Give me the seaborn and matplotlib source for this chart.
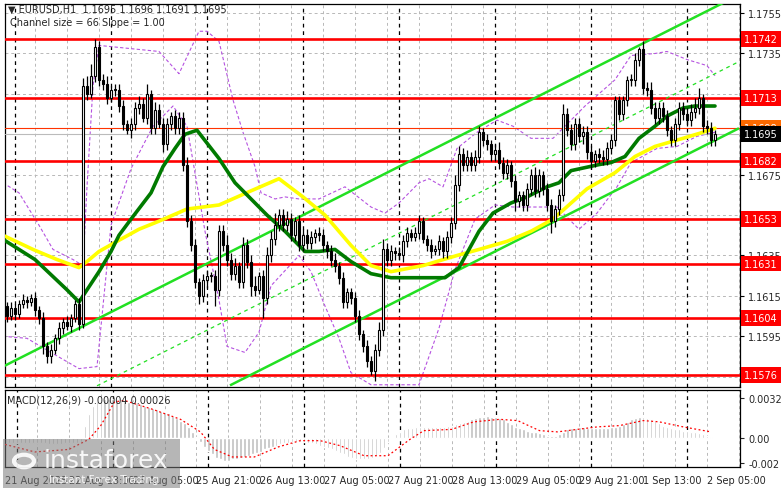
import matplotlib
matplotlib.use("Agg")
import matplotlib.pyplot as plt
import matplotlib.patches as mpatches
import numpy as np
import pandas as pd
import seaborn as sns

W, H = 781, 489

# ---- data (EURUSD H1) ----
first_open = 1.1612
closes = [
    1.1610, 1.1605, 1.1609, 1.1606, 1.1611, 1.1613, 1.1612, 1.1614, 1.1608, 1.1604,
    1.1590, 1.1585, 1.1588, 1.1594, 1.1599, 1.1602, 1.1600, 1.1604, 1.1611, 1.1601,
    1.1719, 1.1715, 1.1724, 1.1738, 1.1722, 1.1720, 1.1713, 1.1717, 1.1717, 1.1709,
    1.1700, 1.1697, 1.1700, 1.1708, 1.1710, 1.1703, 1.1715, 1.1698, 1.1707, 1.1700,
    1.1690, 1.1700, 1.1704, 1.1698, 1.1703, 1.1680, 1.1652, 1.1640, 1.1622, 1.1615,
    1.1623, 1.1625, 1.1625, 1.1618, 1.1647, 1.1640, 1.1633, 1.1626, 1.1630, 1.1622,
    1.1640, 1.1632, 1.1620, 1.1618, 1.1625, 1.1614, 1.1635, 1.1643, 1.1650, 1.1655,
    1.1650, 1.1653, 1.1645, 1.1652, 1.1640, 1.1645, 1.1641, 1.1644, 1.1646, 1.1645,
    1.1640, 1.1637, 1.1633, 1.1630, 1.1624, 1.1612, 1.1617, 1.1614, 1.1605, 1.1596,
    1.1590, 1.1583, 1.1578, 1.1588, 1.1598, 1.1638, 1.1633, 1.1637, 1.1636, 1.1635,
    1.1642, 1.1646, 1.1644, 1.1646, 1.1652, 1.1643, 1.1640, 1.1637, 1.1638, 1.1642,
    1.1637, 1.1644, 1.1651, 1.1670, 1.1685, 1.1680, 1.1684, 1.1680, 1.1684, 1.1696,
    1.1692, 1.1690, 1.1685, 1.1687, 1.1681, 1.1676, 1.1680, 1.1672, 1.1662, 1.1665,
    1.1660, 1.1668, 1.1675, 1.1667, 1.1675, 1.1668, 1.1660, 1.1652, 1.1658, 1.1665,
    1.1705, 1.1697, 1.1690, 1.1700, 1.1694, 1.1696, 1.1686, 1.1682, 1.1685, 1.1684,
    1.1683, 1.1688, 1.1692, 1.1712, 1.1705, 1.1712, 1.1722, 1.1722, 1.1732, 1.1737,
    1.1718, 1.1717, 1.1708, 1.1703, 1.1708, 1.1704, 1.1697, 1.1692, 1.1700, 1.1708,
    1.1705, 1.1702, 1.1706, 1.1708, 1.1713, 1.1699, 1.1698, 1.1692, 1.1695,
]
# wick lengths beyond the body, in pips
wick_up = [
    3, 2, 3, 2, 2, 3, 2, 2, 3, 2,  3, 2, 3, 2, 3, 2, 3, 2, 2, 3,
    4, 5, 6, 4, 3, 3, 4, 2, 3, 3,  3, 2, 3, 3, 4, 3, 5, 2, 4, 3,
    3, 3, 2, 3, 3, 3, 4, 3, 3, 2,  3, 3, 2, 3, 3, 3, 5, 3, 4, 2,
    4, 3, 3, 5, 2, 3, 4, 4, 6, 3,  3, 4, 3, 2, 3, 3, 3, 3, 2, 3,
    3, 2, 3, 3, 2, 3, 2, 2, 3, 3,  2, 3, 2, 3, 4, 5, 3, 3, 2, 3,
    3, 3, 2, 3, 3, 2, 2, 3, 2, 3,  2, 3, 3, 5, 4, 3, 3, 2, 3, 3,
    2, 3, 2, 3, 4, 3, 3, 2, 3, 2,  2, 3, 3, 4, 3, 2, 3, 3, 2, 3,
    5, 3, 3, 3, 3, 3, 3, 3, 2, 3,  3, 3, 3, 2, 2, 2, 2, 3, 3, 1,
    4, 3, 4, 3, 3, 3, 3, 2, 3, 3,  3, 3, 4, 5, 5, 2, 3, 3, 2,
]
wick_dn = [
    3, 3, 2, 3, 2, 2, 3, 2, 3, 3,  4, 3, 3, 2, 3, 3, 2, 3, 2, 3,
    2, 3, 2, 3, 3, 3, 3, 2, 3, 3,  3, 2, 4, 3, 3, 2, 3, 3, 3, 2,
    4, 3, 3, 3, 3, 3, 3, 3, 3, 4,  3, 4, 3, 8, 3, 3, 3, 3, 3, 3,
    3, 3, 5, 3, 2, 10, 3, 3, 3, 3,  3, 3, 3, 3, 3, 3, 3, 3, 3, 3,
    3, 3, 3, 3, 3, 3, 3, 3, 3, 3,  3, 3, 2, 5, 3, 3, 3, 3, 3, 2,
    3, 3, 2, 2, 3, 2, 3, 3, 2, 3,  3, 3, 3, 3, 3, 3, 3, 3, 3, 3,
    3, 3, 3, 3, 3, 3, 3, 3, 5, 3,  3, 3, 3, 3, 3, 3, 3, 6, 3, 3,
    3, 3, 3, 3, 3, 4, 3, 4, 3, 3,  3, 3, 3, 3, 3, 3, 3, 3, 3, 3,
    3, 3, 3, 3, 3, 3, 3, 3, 3, 3,  3, 3, 3, 3, 3, 3, 3, 3, 3,
]

green_idx = [0, 8, 16, 19, 21, 24, 27, 29, 32, 37, 40, 43, 45.5, 48.5, 54, 58, 62, 66,
             70.5, 75.5, 79, 83, 87, 92, 97, 105, 110.5, 114, 119, 122.5, 127, 131, 136,
             139, 142, 149, 152, 155.5, 159, 163, 166, 170, 173, 178]
green_val = [1.1643, 1.1633, 1.1618, 1.1612, 1.1618, 1.1627, 1.1637, 1.1645, 1.1653, 1.1666,
             1.1679, 1.1688, 1.1695, 1.1697, 1.1683, 1.1671, 1.1663, 1.1655, 1.1647, 1.1637,
             1.1637, 1.1638, 1.1632, 1.1626, 1.1624, 1.1624, 1.1624, 1.1629, 1.1647, 1.1656,
             1.1661, 1.1664, 1.1669, 1.1671, 1.1677, 1.1680, 1.1681, 1.1684, 1.1693, 1.1699,
             1.1704, 1.1708, 1.1709, 1.1709]
yellow_idx = [0, 7.5, 13.5, 19, 21, 24, 28.5, 34, 39, 46, 54, 62, 69, 75, 80.5, 87, 92, 97,
              105, 113.5, 119, 126, 132, 137.5, 146, 153, 158, 163, 170, 175, 178]
yellow_val = [1.1645, 1.1638, 1.1633, 1.1629, 1.1632, 1.1637, 1.1642, 1.1648, 1.1652, 1.1658,
              1.1660, 1.1667, 1.1673, 1.1664, 1.1655, 1.1640, 1.1630, 1.1627, 1.1630, 1.1635,
              1.1638, 1.1642, 1.1647, 1.1653, 1.1668, 1.1676, 1.1684, 1.1689, 1.1693, 1.1696,
              1.1698]
env_up_idx = [0, 4, 9, 12.5, 17.5, 20, 21, 22.5, 24, 39, 44, 49, 51, 54, 57.5, 60, 63, 64.5,
              68, 70.5, 74, 79, 85.5, 92, 95.5, 99, 104, 106.5, 110, 113.5, 118.5, 123.5,
              127.5, 132, 137.5, 145.5, 153, 157, 163, 166, 171, 176, 178]
env_up_val = [1.1671, 1.1666, 1.1650, 1.1638, 1.1633, 1.1630, 1.1669, 1.1719, 1.1739, 1.1736,
              1.1725, 1.1746, 1.1746, 1.1741, 1.1712, 1.1696, 1.1679, 1.1666, 1.1663, 1.1664,
              1.1663, 1.1663, 1.1669, 1.1659, 1.1656, 1.1661, 1.1671, 1.1673, 1.1669, 1.1688,
              1.1696, 1.1702, 1.1699, 1.1693, 1.1693, 1.1709, 1.1722, 1.1734, 1.1735, 1.1736,
              1.1732, 1.1729, 1.1724]
env_dn_idx = [0, 6, 12, 19, 23.5, 27, 32, 37.5, 42.5, 46, 50.5, 54, 56, 60.5, 64, 67, 74, 77,
              80.5, 84, 87, 92, 104, 109, 113, 118, 123, 127.5, 138.5, 144, 148.5, 153.5,
              157, 163.5, 168.5, 173.5, 178]
env_dn_val = [1.1595, 1.1594, 1.1587, 1.1579, 1.1580, 1.1650, 1.1678, 1.1699, 1.1709, 1.1699,
              1.1647, 1.1613, 1.1590, 1.1587, 1.1597, 1.1620, 1.1635, 1.1627, 1.1610, 1.1594,
              1.1577, 1.1571, 1.1571, 1.1599, 1.1628, 1.1653, 1.1660, 1.1659, 1.1659, 1.1648,
              1.1656, 1.1669, 1.1681, 1.1688, 1.1689, 1.1694, 1.1696]

# regression channel (66 pips wide, 1 pip per bar)
chan_up = ([0, 181], [1.1580, 1.1761])
chan_mid = ([23.5, 184], [1.15705, 1.17310])
chan_dn = ([56.75, 184], [1.15707, 1.16980])

levels = [1.1742, 1.1713, 1.1682, 1.1653, 1.1631, 1.1604, 1.1576]
ask_price = 1.1698
bid_price = 1.1695
price_ticks = [1.1755, 1.1735, 1.1715, 1.1695, 1.1675, 1.1655, 1.1635, 1.1615, 1.1595, 1.1575]

# MACD histogram and signal, in units of 1e-4
macd_hist = [
    -4, -4, -4, -4, -4, -4, -4, -4, -4, -4,  -4, -5, -5, -5, -5, -4, -4, -4, -4, -3,
    10, 19, 26, 30, 30, 31, 31, 31, 30, 30,  30, 29, 29, 28, 27, 26, 25, 24, 23, 22,
    21, 20, 18, 16, 14, 12, 9, 5, 1, -3,  -7, -10, -13, -16, -17, -18, -18, -17, -17, -16,
    -15, -14, -13, -12, -11, -9, -8, -7, -6, -5,  -4, -4, -3, -3, -3, -3, -4, -4, -5, -6,
    -7, -8, -9, -10, -12, -13, -15, -16, -17, -17,  -17, -17, -16, -14, -12, -8, -3, 0, 3, 5,
    7, 8, 8, 9, 9, 9, 9, 9, 9, 9,  9, 10, 10, 11, 12, 13, 14, 15, 16, 17,
    17, 18, 17, 17, 16, 15, 13, 11, 9, 8,  7, 6, 5, 5, 4, 3, 2, 2, 2, 3,
    5, 7, 8, 8, 9, 9, 8, 8, 8, 8,  8, 8, 9, 9, 10, 11, 13, 15, 16, 17,
    17, 16, 15, 14, 12, 10, 9, 8, 7, 7,  6, 6, 5, 5, 4, 3, 2, 1, 0,
]
sig_idx = [0, 7.5, 16, 21, 24, 27.5, 30, 37, 44, 49, 52.5, 57, 62.5, 68.5, 74, 79, 84, 90,
           96, 101.5, 105, 112, 117.5, 124, 128.5, 134, 138.5, 143.5, 148.5, 154, 160, 164,
           170, 177]
sig_val = [-5, -11, -9, -1, 10, 29, 30, 23, 15, 5, -9, -15, -15, -7, -2, -2, -6, -14, -14,
           -1, 6, 7, 13, 15, 14, 6, 5, 7, 9, 10, 14, 13, 9, 5]

tick_pos = [0, 16, 32, 48, 64, 80, 96, 112, 128, 144, 160, 176]
tick_lab = ["21 Aug 2025", "22 Aug 13:00", "25 Aug 05:00", "25 Aug 21:00", "26 Aug 13:00",
            "27 Aug 05:00", "27 Aug 21:00", "28 Aug 13:00", "29 Aug 05:00", "29 Aug 21:00",
            "1 Sep 13:00", "2 Sep 05:00"]

# ---- figure ----
sns.set_style("white")
plt.rcParams["font.family"] = ["DejaVu Sans"]
FS = 7
fig = plt.figure(figsize=(W / 100, H / 100), dpi=100)
fig.patch.set_facecolor("white")


def fax(x0, y0, x1, y1):
    return fig.add_axes([x0 / W, 1 - y1 / H, (x1 - x0) / W, (y1 - y0) / H])


ax = fax(5, 5, 740, 388)
mx = fax(5, 391, 740, 468)
XL = (0.5, 184.25)

n = len(closes)
idx = np.arange(n)
c = np.array(closes)
o = np.array([first_open] + closes[:-1])
hi = np.maximum(o, c) + np.array(wick_up) * 1e-4
lo = np.minimum(o, c) - np.array(wick_dn) * 1e-4

for a in (ax, mx):
    a.set_xlim(*XL)
    for k in range(0, 185, 8):
        a.axvline(k, color="#b8b8b8", ls=(0, (3, 3)), lw=0.7, zorder=0)
    for k in range(3, 185, 24):
        a.axvline(k, color="black", ls=(0, (3, 3)), lw=0.9, zorder=0.5)

ax.set_ylim(1.15699, 1.17595)
for p in price_ticks:
    ax.axhline(p, color="#b8b8b8", ls=(0, (3, 3)), lw=0.7, zorder=0)

# envelopes and moving averages
env = pd.DataFrame({"i": env_up_idx, "v": env_up_val})
sns.lineplot(data=env, x="i", y="v", ax=ax, color="#b552e0", lw=0.8, ls=(0, (3, 2)),
             sort=False, zorder=2)
env = pd.DataFrame({"i": env_dn_idx, "v": env_dn_val})
sns.lineplot(data=env, x="i", y="v", ax=ax, color="#b552e0", lw=0.8, ls=(0, (3, 2)),
             sort=False, zorder=2)

for lv in levels:
    ax.axhline(lv, color="#ff0000", lw=1.9, zorder=3)
ax.axhline(ask_price, color="#ff3300", lw=0.8, zorder=3)
ax.axhline(bid_price, color="#bbbbbb", lw=0.8, zorder=3)

ax.plot(*chan_up, color="#22e022", lw=1.8, zorder=4, solid_capstyle="butt")
ax.plot(*chan_dn, color="#22e022", lw=1.8, zorder=4, solid_capstyle="butt")
ax.plot(*chan_mid, color="#22e022", lw=0.9, ls=(0, (3, 3)), zorder=4)

sns.lineplot(x=yellow_idx, y=yellow_val, ax=ax, color="#ffff00", lw=2.6, sort=False, zorder=5)
sns.lineplot(x=green_idx, y=green_val, ax=ax, color="#007a00", lw=2.6, sort=False, zorder=5)

# candles
ax.vlines(idx, lo, hi, color="black", lw=0.9, zorder=6)
bull = c >= o
bh = np.abs(c - o)
bh = np.where(bh < 0.00005, 0.00005, bh)
bot = np.minimum(o, c)
ax.bar(idx[bull], bh[bull], bottom=bot[bull], width=0.7, color="white",
       edgecolor="black", lw=0.8, zorder=7)
ax.bar(idx[~bull], bh[~bull], bottom=bot[~bull], width=0.7, color="black",
       edgecolor="black", lw=0.8, zorder=7)

ax.yaxis.tick_right()
ax.set_yticks(price_ticks)
ax.set_yticklabels([f"{p:.4f}" for p in price_ticks], fontsize=FS)
ax.tick_params(axis="y", length=3, pad=3, color="black")
ax.set_xticks([])
ax.set_xlabel("")
ax.set_ylabel("")

tr = ax.get_yaxis_transform()
box = dict(boxstyle="square,pad=0.3", ec="none")
ax.text(1.006, ask_price, "1.1698", transform=tr, fontsize=FS, color="white", va="center",
        ha="left", bbox=dict(box, fc="#ff6a00"), zorder=9, clip_on=False)
ax.text(1.006, bid_price, "1.1695", transform=tr, fontsize=FS, color="white", va="center",
        ha="left", bbox=dict(box, fc="black"), zorder=10, clip_on=False)
for lv in levels:
    ax.text(1.006, lv, f"{lv:.4f}", transform=tr, fontsize=FS, color="white", va="center",
            ha="left", bbox=dict(box, fc="#ff0000"), zorder=10, clip_on=False)

# MACD panel
mx.set_ylim(-0.0023, 0.00384)
h = np.array(macd_hist) * 1e-4
mx.bar(idx, h, width=0.62, color="#c0c0c0", zorder=2)
sns.lineplot(x=sig_idx, y=np.array(sig_val) * 1e-4, ax=mx, color="#ff0000", lw=0.9,
             ls=(0, (1.5, 2)), sort=False, zorder=3)
mx.yaxis.tick_right()
mx.set_yticks([0.0032, 0.0, -0.002])
mx.set_yticklabels(["0.0032", "0.00", "-0.002"], fontsize=FS)
mx.tick_params(axis="y", length=3, pad=3)
mx.set_xticks(tick_pos)
mx.set_xticklabels(tick_lab, fontsize=FS, ha="left")
mx.tick_params(axis="x", length=3, pad=3)
mx.set_xlabel("")
mx.set_ylabel("")

for a in (ax, mx):
    for s in a.spines.values():
        s.set_color("black")
        s.set_linewidth(0.9)

fig.text(8 / W, 1 - 10 / H, "\u25bc EURUSD,H1  1.1695 1.1696 1.1691 1.1695", fontsize=FS,
         va="center")
fig.text(10 / W, 1 - 23 / H, "Channel size = 66 Slope = 1.00", fontsize=FS, va="center")
fig.text(7 / W, 1 - 401 / H, "MACD(12,26,9) -0.00004 0.00026", fontsize=FS, va="center")

# watermark
fig.patches.append(mpatches.Rectangle((3 / W, 0), 177 / W, 49 / H, transform=fig.transFigure,
                                      fc="#7a7a7a", ec="none", alpha=0.55, zorder=20))
fig.patches.append(mpatches.Circle((24 / W, 1 - 462 / H), 10 / W, transform=fig.transFigure,
                                   fc="none", ec="white", lw=3, alpha=0.9, zorder=21))
fig.text(44 / W, 1 - 461 / H, "instaforex", fontsize=18, color="white", va="center",
         alpha=0.9, zorder=22)
fig.text(49 / W, 1 - 480 / H, "Instant Forex Trading", fontsize=7.5, color="white",
         va="center", alpha=0.9, zorder=22)

fig.savefig("out.png", dpi=100)
